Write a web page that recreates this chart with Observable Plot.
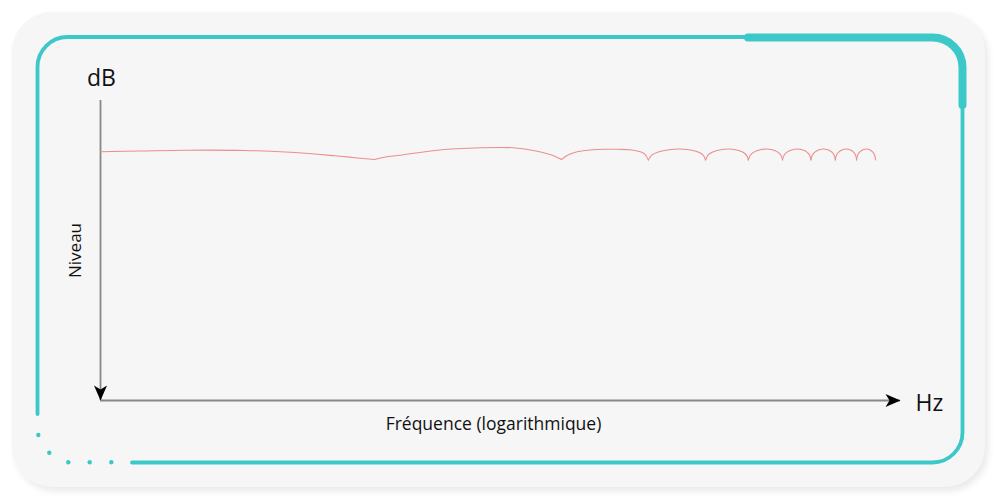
<!DOCTYPE html>
<html>
<head>
<meta charset="utf-8">
<script src="https://cdn.jsdelivr.net/npm/d3@7"></script>
<script src="https://cdn.jsdelivr.net/npm/@observablehq/plot@0.6"></script>
<style>
  html, body { margin: 0; padding: 0; background: #ffffff; }
  #wrap { position: relative; width: 1000px; height: 500px; overflow: hidden; font-family: "Open Sans", sans-serif; }
  #card { position: absolute; left: 12px; top: 12px; width: 973px; height: 475px; border-radius: 40px;
          background: #f6f6f6; box-shadow: 3px 4px 7px rgba(0,0,0,0.09); }
  #deco, #chart { position: absolute; left: 0; top: 0; }
</style>
</head>
<body>
<div id="wrap">
  <div id="card"></div>
  <svg id="deco" width="1000" height="500"></svg>
  <div id="chart"></div>
</div>
<script>
// ---- data (frequency in Hz, level in dB) ----
const xDomain = [100, 11000];
const yDomain = [-30, 0];

const lobeFreqHz = [
  [100, 127, 165, 234, 314, 397, 447, 500],
  [500, 533, 582, 724, 931, 1130, 1302, 1422, 1500],
  [1500, 1560, 1646, 1800, 1950, 2100, 2247, 2426, 2470, 2500],
  [2500, 2550, 2650, 2825, 3000, 3175, 3350, 3450, 3500],
  [3500, 3550, 3650, 3825, 4000, 4175, 4350, 4450, 4500],
  [4500, 4550, 4650, 4825, 5000, 5175, 5350, 5450, 5500],
  [5500, 5550, 5650, 5825, 6000, 6175, 6350, 6450, 6500],
  [6500, 6550, 6650, 6825, 7000, 7175, 7350, 7450, 7500],
  [7500, 7550, 7650, 7825, 8000, 8175, 8350, 8450, 8500],
  [8500, 8550, 8650, 8825, 9000, 9175, 9350, 9450, 9500]
];
const lobeLevelDb = [
  [-5.13, -5.05, -4.97, -5.00, -5.20, -5.53, -5.72, -5.90],
  [-5.90, -5.65, -5.47, -4.97, -4.73, -4.73, -5.07, -5.47, -5.90],
  [-5.90, -5.45, -5.13, -4.92, -4.87, -4.88, -4.93, -5.25, -5.55, -5.95],
  [-5.95, -5.47, -5.16, -4.92, -4.85, -4.92, -5.16, -5.47, -5.95],
  [-5.95, -5.47, -5.16, -4.92, -4.85, -4.92, -5.16, -5.47, -5.95],
  [-5.95, -5.47, -5.16, -4.92, -4.85, -4.92, -5.16, -5.47, -5.95],
  [-5.95, -5.47, -5.16, -4.92, -4.85, -4.92, -5.16, -5.47, -5.95],
  [-5.95, -5.47, -5.16, -4.92, -4.85, -4.92, -5.16, -5.47, -5.95],
  [-5.95, -5.47, -5.16, -4.92, -4.85, -4.92, -5.16, -5.47, -5.95],
  [-5.95, -5.47, -5.16, -4.92, -4.85, -4.92, -5.16, -5.47, -5.95]
];

const yLabelTop = "dB";
const xLabelEnd = "Hz";
const yTitle = "Niveau";
const xTitle = "Fréquence (logarithmique)";

// ---- build table ----
const rows = lobeFreqHz.flatMap((fs, i) => fs.map((f, j) => ({lobe: i, f, db: lobeLevelDb[i][j]})));

// filled "stealth" arrowhead, tip at origin, pointing down
const arrowSym = {
  draw(ctx) {
    ctx.moveTo(0, 0);
    ctx.lineTo(-6.5, -15);
    ctx.lineTo(0, -11);
    ctx.lineTo(6.5, -15);
    ctx.closePath();
  }
};

const arrows = [
  {x: xDomain[0], y: yDomain[0], rot: 0},
  {x: xDomain[1], y: yDomain[0], rot: -90}
];

const chart = Plot.plot({
  width: 1000,
  height: 500,
  marginLeft: 100, marginRight: 100, marginTop: 100, marginBottom: 100,
  style: {background: "transparent", fontFamily: "'Open Sans', sans-serif", overflow: "visible"},
  x: {type: "log", domain: xDomain, axis: null},
  y: {domain: yDomain, axis: null},
  marks: [
    Plot.ruleX([xDomain[0]], {stroke: "#888888", strokeWidth: 1.8}),
    Plot.ruleY([yDomain[0]], {stroke: "#888888", strokeWidth: 1.8}),
    Plot.line(rows, {x: "f", y: "db", z: "lobe", curve: "catmull-rom", stroke: "#ec8e8e", strokeWidth: 1.1}),
    Plot.dot(arrows, {x: "x", y: "y", rotate: "rot", symbol: arrowSym, fill: "#000000", stroke: null}),
    Plot.text([yLabelTop], {text: d => d, frameAnchor: "top-left", dx: 1, dy: -15, textAnchor: "middle", lineAnchor: "bottom", fontSize: 23, fill: "#111111"}),
    Plot.text([xLabelEnd], {text: d => d, frameAnchor: "bottom-right", dx: 15, dy: 10, textAnchor: "start", lineAnchor: "bottom", fontSize: 23, fill: "#111111"}),
    Plot.text([yTitle], {text: d => d, frameAnchor: "left", dx: -25, rotate: -90, textAnchor: "middle", lineAnchor: "middle", fontSize: 17, fill: "#111111"}),
    Plot.text([xTitle], {text: d => d, frameAnchor: "bottom", dx: -7, dy: 29, textAnchor: "middle", lineAnchor: "bottom", fontSize: 17.5, fill: "#111111"})
  ]
});
document.getElementById("chart").appendChild(chart);

// ---- decorative teal frame of the card ----
const teal = "#3cc8c9";
const deco = d3.select("#deco");
const thin = [
  "M37.5,414 L37.5,67 A30,30 0 0 1 67.5,37 L750,37",
  "M962.5,105 L962.5,432 A30,30 0 0 1 932.5,462.5 L132,462.5"
];
thin.forEach(d => deco.append("path").attr("d", d).attr("fill", "none")
  .attr("stroke", teal).attr("stroke-width", 3.8).attr("stroke-linecap", "round"));
deco.append("path").attr("d", "M748,37.5 L932.5,37.5 A30,30 0 0 1 962.5,67.5 L962.5,105")
  .attr("fill", "none").attr("stroke", teal).attr("stroke-width", 8).attr("stroke-linecap", "round");
[[38.3, 435], [49.3, 452.7], [68.3, 462.3], [89.7, 462.3], [111.3, 462.3]].forEach(([cx, cy]) =>
  deco.append("circle").attr("cx", cx).attr("cy", cy).attr("r", 2.2).attr("fill", teal));
</script>
</body>
</html>
